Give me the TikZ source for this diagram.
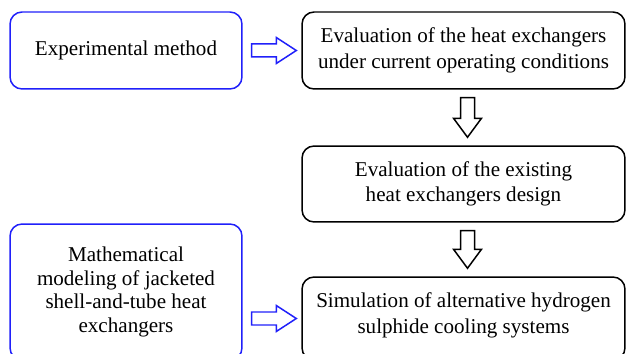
\documentclass[tikz,border=0pt]{standalone}
\usepackage{fontspec}
\setmainfont{Liberation Serif}
\usetikzlibrary{calc}
\definecolor{boxblue}{RGB}{32,32,250}

% hollow block arrows between two boxes
\newcommand{\hollowright}[3][]{%
  \draw[#1] ($(#2.east |- #3.west)+(9,-6.5)$) -- ($(#3.west)+(-25,-6.5)$)
    -- ($(#3.west)+(-25,-13)$) -- ($(#3.west)+(-5,0)$)
    -- ($(#3.west)+(-25,13)$) -- ($(#3.west)+(-25,6.5)$)
    -- ($(#2.east |- #3.west)+(9,6.5)$) -- cycle;}
\newcommand{\hollowdown}[3][]{%
  \draw[#1] ($(#2.south)+(-3,8)$) -- ($(#3.north)+(-3,-27)$)
    -- ($(#3.north)+(-10,-27)$) -- ($(#3.north)+(4,-8)$)
    -- ($(#3.north)+(18,-27)$) -- ($(#3.north)+(11,-27)$)
    -- ($(#2.south)+(11,8)$) -- cycle;}

\begin{document}
\begin{tikzpicture}[x=0.02cm,y=-0.02cm,
    box/.style={draw=black, line width=0.85pt, rounded corners=0.24cm,
      align=center, inner sep=0pt, font=\fontsize{12}{14.6}\selectfont},
    bluebox/.style={box, draw=boxblue},
    leftbox/.style={bluebox, minimum width=4.64cm},
    rightbox/.style={box, minimum width=6.46cm}]
    \useasboundingbox (0,0) rectangle (628,354);

    \node[leftbox, minimum height=1.54cm] (expm) at (126,50.5) {Experimental method};
    \node[leftbox, minimum height=2.72cm, font=\fontsize{12}{13.5}\selectfont]
      (model) at (126,292)
      {Mathematical\\ modeling of jacketed\\ shell-and-tube heat\\ exchangers};

    \node[rightbox, minimum height=1.54cm] (evalcur) at (463.5,50.5)
      {Evaluation of the heat exchangers\\ under current operating conditions};
    \node[rightbox, minimum height=1.52cm] (evaldes) at (463.5,184)
      {Evaluation of the existing\\ heat exchangers design};
    \node[rightbox, minimum height=1.66cm, text depth=6pt] (simul) at (463.5,318.5)
      {Simulation of alternative hydrogen\\ sulphide cooling systems};

    \hollowright[boxblue, line width=0.85pt]{expm}{evalcur}
    \hollowright[boxblue, line width=0.85pt]{model}{simul}
    \hollowdown[black, line width=0.85pt]{evalcur}{evaldes}
    \hollowdown[black, line width=0.85pt]{evaldes}{simul}
\end{tikzpicture}
\end{document}
